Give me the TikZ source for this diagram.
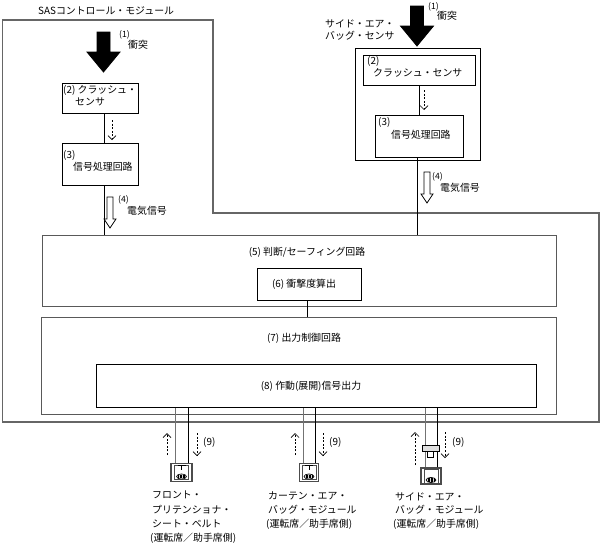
\documentclass[tikz,border=0pt]{standalone}
\usepackage{fontspec}
\newfontfamily\jp{Noto Sans CJK JP}
\usetikzlibrary{arrows.meta,calc}
\tikzset{
  x=1pt,y=-1pt,
  txt/.style={font=\jp\fontsize{9.9}{12}\selectfont,inner sep=0pt},
  smalltxt/.style={font=\jp\fontsize{8.6}{10}\selectfont,inner sep=0pt},
  blk/.style={draw=black,line width=0.9pt,fill=white,inner sep=0pt},
  grayblk/.style={draw=black!65,line width=1.1pt,fill=white,inner sep=0pt},
  frame/.style={draw=black!60,line width=1.4pt},
  wireA/.style={draw=black!55,line width=0.9pt},
  wireB/.style={draw=black,line width=0.9pt},
  conn/.style={draw=black,line width=0.9pt},
  dasharrow/.style={draw=black,line width=0.7pt,dash pattern=on 2pt off 1.6pt,-{Straight Barb[length=4pt,width=8pt,line width=0.7pt]}},
  iconbox/.style={draw=black!70,line width=1.2pt,fill=white,inner sep=0pt,minimum width=19pt,minimum height=18pt},
  bigarrow/.pic={\filldraw[black,line width=0.8pt] (-6.5,0) -- (6.5,0) -- (6.5,20) -- (16.5,20) -- (0,40) -- (-16.5,20) -- (-6.5,20) -- cycle;},
  hollowarrow/.pic={\filldraw[draw=black,fill=white,line width=0.8pt] (-3,0) -- (3,0) -- (3,22) -- (6,22) -- (0,31) -- (-6,22) -- (-3,22) -- cycle;},
  iconinside/.pic={
    \draw[black!70,line width=0.6pt] (-7,-7) rectangle (7,7);
    \filldraw[draw=black,fill=black!15,line width=0.6pt] (0,4) ellipse (5pt and 2.6pt);
    \foreach \dx in {-3,-1.5,0,1.5,3} \draw[line width=0.4pt] (\dx,2.2) -- (\dx,5.8);
  },
}
\begin{document}
\begin{tikzpicture}
\useasboundingbox (0,0) rectangle (601,542);

% outer SAS control module frame
\coordinate (F1) at (2.5,20);
\coordinate (F2) at (213,20);
\coordinate (F3) at (213,213);
\coordinate (F4) at (599,213);
\coordinate (F5) at (599,422);
\coordinate (F6) at (2.5,422);
\draw[frame] (F1) -- (F2) -- (F3) -- (F4) -- (F5) -- (F6) -- cycle;
\node[txt,anchor=west] (sas) at (38,11) {SASコントロール・モジュール};

% side airbag sensor frame
\node[blk,minimum width=125pt,minimum height=112pt,anchor=north west] (SF) at (355,48) {};
\node[txt,anchor=west] (sabs1) at (325,24) {サイド・エア・};
\node[txt,anchor=west] (sabs2) at (325,36) {バッグ・センサ};

% left chain
\node[blk,minimum width=76pt,minimum height=30pt,anchor=north west] (L2) at (62,83) {};
\node[txt,anchor=west] (L2a) at (63,90) {(2) クラッシュ・};
\node[txt,anchor=west] (L2b) at (75,102) {センサ};
\node[blk,minimum width=76pt,minimum height=42pt,anchor=north west] (L3) at (62,143) {};
\node[txt,anchor=west] (L3a) at (63,155) {(3)};
\node[txt,anchor=west] (L3b) at (73,167) {信号処理回路};

% right chain
\node[blk,minimum width=112pt,minimum height=30pt,anchor=north west] (R2) at (363,55) {};
\node[txt,anchor=west] (R2a) at (367,61) {(2)};
\node[txt,anchor=west] (R2b) at (373,73) {クラッシュ・センサ};
\node[blk,minimum width=88pt,minimum height=42pt,anchor=north west] (R3) at (375,115) {};
\node[txt,anchor=west] (R3a) at (378,122) {(3)};
\node[txt,anchor=west] (R3b) at (391,135) {信号処理回路};

% main boxes
\node[grayblk,minimum width=514pt,minimum height=71pt,anchor=north west] (B5) at (42,235) {};
\node[txt] (B5t) at (307,252) {(5) 判断/セーフィング回路};
\node[blk,minimum width=104pt,minimum height=32pt,anchor=north west] (B6) at (257,268) {};
\node[txt] (B6t) at (304,284) {(6) 衝撃度算出};
\node[grayblk,minimum width=515pt,minimum height=97pt,anchor=north west] (B7) at (41,317) {};
\node[txt] (B7t) at (304,338) {(7) 出力制御回路};
\node[blk,minimum width=440pt,minimum height=43pt,anchor=north west] (B8) at (96,364) {};
\node[txt] (B8t) at (311,386) {(8) 作動(展開)信号出力};

% connectors
\draw[conn] ([xshift=4pt]L2.south) -- ([xshift=4pt]L3.north);
\draw[conn] ([xshift=4pt]L3.south) -- ([xshift=4pt]L3.south |- B5.north);
\draw[conn] (R2.south -| R3.north) -- (R3.north);
\draw[conn] ([xshift=-2pt]R3.south) -- ([xshift=-2pt]R3.south |- B5.north);
\draw[conn] ([xshift=-2pt]B6.south) -- ([xshift=-2pt]B6.south |- B7.north);

% big impact arrows
\pic at (103.5,32) {bigarrow};
\pic at (417,6) {bigarrow};
\node[smalltxt,anchor=west] (l1a) at (119,35) {(1)};
\node[txt,anchor=west] (l1b) at (128,45) {衝突};
\node[smalltxt,anchor=west] (r1a) at (428,7) {(1)};
\node[txt,anchor=west] (r1b) at (437,16) {衝突};

% dashed arrows inside sensors
\coordinate (dL1) at (112,120); \coordinate (dL2) at (112,140);
\draw[dasharrow] (dL1) -- (dL2);
\coordinate (dR1) at (424,90); \coordinate (dR2) at (424,110);
\draw[dasharrow] (dR1) -- (dR2);

% hollow electric signal arrows
\pic at (110,197) {hollowarrow};
\pic at (427,172) {hollowarrow};
\node[smalltxt,anchor=west] (l4a) at (118,200) {(4)};
\node[txt,anchor=west] (l4b) at (127,211) {電気信号};
\node[smalltxt,anchor=west] (r4a) at (432,177) {(4)};
\node[txt,anchor=west] (r4b) at (440,188) {電気信号};

% output modules (icons)
\node[iconbox,minimum width=21pt] (I1) at (181.5,472.5) {};
\node[iconbox] (I2) at (309,472.5) {};
\node[iconbox,minimum width=20pt,minimum height=16pt] (I3) at (431,476) {};
\pic at (I1) {iconinside};
\pic at (I2) {iconinside};
\pic at (I3) {iconinside};

% wires from (8) to modules
\draw[wireA] ([xshift=-6.5pt]I1.north) -- ([xshift=-6.5pt]I1.north |- B8.south);
\draw[wireB] ([xshift=6.5pt]I1.north) -- ([xshift=6.5pt]I1.north |- B8.south);
\draw[wireA] ([xshift=-6pt]I2.north) -- ([xshift=-6pt]I2.north |- B8.south);
\draw[wireB] ([xshift=6pt]I2.north) -- ([xshift=6pt]I2.north |- B8.south);
\draw[wireA] ([xshift=-6pt]I3.north) -- ([xshift=-6pt]I3.north |- B8.south);
\draw[wireB] ([xshift=6pt]I3.north) -- ([xshift=6pt]I3.north |- B8.south);

% small T pieces inside icons 1 and 2
\foreach \I in {I1,I2}{
  \draw[line width=0.7pt] ([xshift=-4pt,yshift=-2pt]\I.north) -- ([xshift=4pt,yshift=-2pt]\I.north);
  \draw[line width=0.9pt] ([yshift=-2pt]\I.north) -- ([yshift=-7pt]\I.north);
}
% connector on side airbag wires
\node[draw=black,line width=0.8pt,fill=black!12,minimum width=17pt,minimum height=6pt,inner sep=0pt] (C3) at (430.5,448) {};
\node[draw=black,line width=0.7pt,fill=white,minimum width=6pt,minimum height=6pt,inner sep=0pt,anchor=north] (C3b) at (C3.south) {};

% dashed (9) arrows
\coordinate (u1a) at (167,455); \coordinate (u1b) at (167,433);
\coordinate (d1a) at (197,433); \coordinate (d1b) at (197,456);
\draw[dasharrow] (u1a) -- (u1b); \draw[dasharrow] (d1a) -- (d1b);
\node[txt,anchor=west] (n91) at (203,442) {(9)};
\coordinate (u2a) at (295,455); \coordinate (u2b) at (295,433);
\coordinate (d2a) at (323,433); \coordinate (d2b) at (323,456);
\draw[dasharrow] (u2a) -- (u2b); \draw[dasharrow] (d2a) -- (d2b);
\node[txt,anchor=west] (n92) at (329,442) {(9)};
\coordinate (u3a) at (415,465); \coordinate (u3b) at (415,432);
\coordinate (d3a) at (445,432); \coordinate (d3b) at (445,458);
\draw[dasharrow] (u3a) -- (u3b); \draw[dasharrow] (d3a) -- (d3b);
\node[txt,anchor=west] (n93) at (452,442) {(9)};

% module labels
\node[txt,anchor=west] (m1a) at (152,495) {フロント・};
\node[txt,anchor=west] (m1b) at (152,510) {プリテンショナ・};
\node[txt,anchor=west] (m1c) at (152,524) {シート・ベルト};
\node[txt,anchor=west] (m1d) at (150,538) {(運転席／助手席側)};
\node[txt,anchor=west] (m2a) at (268,496) {カーテン・エア・};
\node[txt,anchor=west] (m2b) at (268,510) {バッグ・モジュール};
\node[txt,anchor=west] (m2c) at (266,524) {(運転席／助手席側)};
\node[txt,anchor=west] (m3a) at (395,497) {サイド・エア・};
\node[txt,anchor=west] (m3b) at (395,510) {バッグ・モジュール};
\node[txt,anchor=west] (m3c) at (393,524) {(運転席／助手席側)};
\end{tikzpicture}
\end{document}
